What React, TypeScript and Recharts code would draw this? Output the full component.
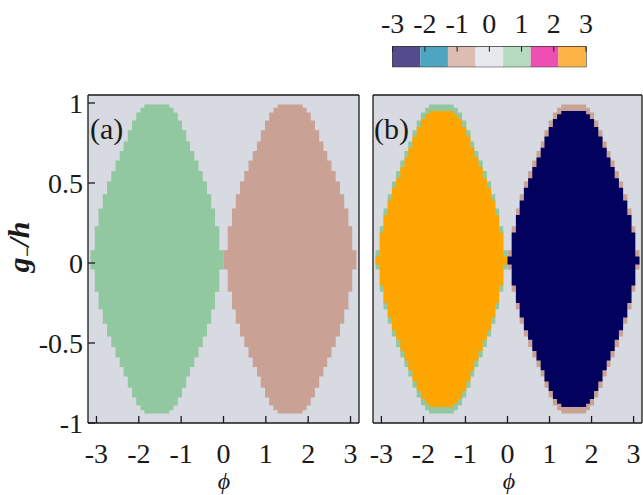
import React from 'react';
import {
  ComposedChart,
  Area,
  XAxis,
  YAxis,
  CartesianGrid,
  BarChart,
  Bar,
  ReferenceArea,
} from 'recharts';

// cell edges along phi, -pi .. pi
const phiGrid = [
  -3.14, -3.04, -2.95, -2.85, -2.75, -2.65, -2.55, -2.45, -2.36, -2.26, -2.16,
  -2.06, -1.96, -1.87, -1.77, -1.67, -1.57, -1.47, -1.37, -1.28, -1.18, -1.08,
  -0.98, -0.88, -0.79, -0.69, -0.59, -0.49, -0.39, -0.29, -0.2, -0.1, 0, 0.1,
  0.2, 0.29, 0.39, 0.49, 0.59, 0.69, 0.79, 0.88, 0.98, 1.08, 1.18, 1.28, 1.37,
  1.47, 1.57, 1.67, 1.77, 1.87, 1.96, 2.06, 2.16, 2.26, 2.36, 2.45, 2.55, 2.65,
  2.75, 2.85, 2.95, 3.04, 3.14,
];

// outline of one lobe, cell by cell (g-/h)
const lobeTop = [
  0.08, 0.23, 0.34, 0.43, 0.51, 0.575, 0.64, 0.7, 0.76, 0.83, 0.89, 0.94, 0.97,
  0.99, 0.99, 0.99, 0.99, 0.99, 0.99, 0.97, 0.94, 0.89, 0.83, 0.76, 0.7, 0.64,
  0.575, 0.51, 0.43, 0.34, 0.23, 0.08,
];
const lobeBottom = [
  -0.04, -0.18, -0.29, -0.38, -0.46, -0.525, -0.59, -0.65, -0.71, -0.78, -0.84,
  -0.89, -0.92, -0.94, -0.94, -0.94, -0.94, -0.94, -0.94, -0.92, -0.89, -0.84,
  -0.78, -0.71, -0.65, -0.59, -0.525, -0.46, -0.38, -0.29, -0.18, -0.04,
];

// panel (b): the core inside the one-cell rim
const coreTop = [
  0.04, 0.19, 0.3, 0.39, 0.47, 0.53, 0.6, 0.66, 0.72, 0.79, 0.85, 0.9, 0.93,
  0.95, 0.95, 0.95, 0.95, 0.95, 0.95, 0.93, 0.9, 0.85, 0.79, 0.72, 0.66, 0.6,
  0.53, 0.47, 0.39, 0.3, 0.19, 0.04,
];
const coreBottom = [
  -0.01, -0.14, -0.25, -0.34, -0.42, -0.48, -0.55, -0.61, -0.67, -0.74, -0.8,
  -0.85, -0.88, -0.9, -0.9, -0.9, -0.9, -0.9, -0.9, -0.88, -0.85, -0.8, -0.74,
  -0.67, -0.61, -0.55, -0.48, -0.42, -0.34, -0.25, -0.14, -0.01,
];

const xTicks = [-3, -2, -1, 0, 1, 2, 3];
const yTicks = [-1, -0.5, 0, 0.5, 1];

// colour bar
const levels = [-3, -2, -1, 0, 1, 2, 3];
const levelColors = ['#554c8e', '#4ea5bf', '#dcbcb3', '#e6e8ee', '#b5dcbf', '#ed4fb3', '#fbb444'];

const FONT = '"Liberation Serif", "DejaVu Serif", serif';
const INK = '#1a1a1a';
const BG = '#d7dae1';
const GREEN = '#91c8a0';
const BROWN = '#c9a195';
const ORANGE = '#ffa500';
const NAVY = '#02025e';

const half = lobeTop.length;

const rows = phiGrid.map((phi, i) => {
  const l = i <= half ? Math.min(i, half - 1) : -1;
  const r = i >= half ? Math.min(i - half, half - 1) : -1;
  return {
    phi,
    rimL: l >= 0 ? [lobeBottom[l], lobeTop[l]] : null,
    rimR: r >= 0 ? [lobeBottom[r], lobeTop[r]] : null,
    coreL: l >= 0 ? [coreBottom[l], coreTop[l]] : null,
    coreR: r >= 0 ? [coreBottom[r], coreTop[r]] : null,
  };
});

const cbRows = [
  Object.fromEntries([['name', 'bar'], ...levels.map((_, i) => [`s${i}`, 1])]),
];

const tickStyle = { fill: INK, fontSize: 28, fontFamily: FONT };
const lineStyle = { stroke: INK, strokeWidth: 1.3 };

interface PanelProps {
  width: number;
  marginLeft: number;
  marginRight: number;
  yLabels: boolean;
  series: { key: string; color: string }[];
}

function Panel({ width, marginLeft, marginRight, yLabels, series }: PanelProps) {
  return (
    <ComposedChart
      width={width}
      height={495}
      data={rows}
      margin={{ top: 94, right: marginRight, bottom: 12, left: marginLeft }}
    >
      <CartesianGrid horizontal={false} vertical={false} fill={BG} fillOpacity={1} />
      <XAxis
        dataKey="phi"
        type="number"
        domain={[-3.2, 3.2]}
        allowDataOverflow
        ticks={xTicks}
        interval={0}
        height={60}
        tickSize={-7}
        tickMargin={27}
        tick={tickStyle}
        tickLine={lineStyle}
        axisLine={lineStyle}
      />
      <XAxis
        xAxisId="top"
        orientation="top"
        type="number"
        domain={[-3.2, 3.2]}
        allowDataOverflow
        ticks={xTicks}
        interval={0}
        height={1}
        tickSize={-7}
        tick={false}
        tickLine={lineStyle}
        axisLine={lineStyle}
      />
      <YAxis
        type="number"
        domain={[-1, 1.05]}
        allowDataOverflow
        ticks={yTicks}
        interval={0}
        width={yLabels ? 80 : 1}
        tickSize={-7}
        tickMargin={12}
        tick={yLabels ? tickStyle : false}
        tickLine={lineStyle}
        axisLine={lineStyle}
      />
      <YAxis
        yAxisId="right"
        orientation="right"
        type="number"
        domain={[-1, 1.05]}
        allowDataOverflow
        ticks={yTicks}
        interval={0}
        width={1}
        tickSize={-7}
        tick={false}
        tickLine={lineStyle}
        axisLine={lineStyle}
      />
      {series.map((s) => (
        <Area
          key={s.key}
          type="stepAfter"
          dataKey={s.key}
          fill={s.color}
          fillOpacity={1}
          stroke="none"
          dot={false}
          activeDot={false}
          isAnimationActive={false}
        />
      ))}
    </ComposedChart>
  );
}

function ColorBar() {
  return (
    <BarChart
      width={225}
      height={75}
      data={cbRows}
      layout="vertical"
      barCategoryGap={0}
      margin={{ top: 6.7, right: 19, bottom: 7.3, left: 12.7 }}
    >
      <XAxis xAxisId="seg" type="number" domain={[0, levels.length]} allowDataOverflow hide />
      <XAxis
        xAxisId="lab"
        orientation="top"
        type="number"
        domain={[-3, 3]}
        allowDataOverflow
        ticks={levels}
        interval={0}
        height={40}
        tickSize={-5}
        tickMargin={18.7}
        axisLine={false}
        tickLine={{ stroke: INK }}
        tick={tickStyle}
      />
      <XAxis
        xAxisId="labB"
        orientation="bottom"
        type="number"
        domain={[-3, 3]}
        allowDataOverflow
        ticks={levels}
        interval={0}
        height={1}
        tickSize={-5}
        axisLine={false}
        tick={false}
        tickLine={{ stroke: INK }}
      />
      <YAxis type="category" dataKey="name" hide />
      {levels.map((lv, i) => (
        <Bar
          key={lv}
          xAxisId="seg"
          dataKey={`s${i}`}
          stackId="cb"
          fill={levelColors[i]}
          isAnimationActive={false}
        />
      ))}
      <ReferenceArea xAxisId="seg" x1={0} x2={levels.length} fill="none" stroke="#333" strokeWidth={1.2} />
    </BarChart>
  );
}

const textBase: React.CSSProperties = {
  position: 'absolute',
  fontFamily: FONT,
  color: INK,
  lineHeight: 1,
  whiteSpace: 'nowrap',
};

export default function App() {
  return (
    <div
      style={{
        position: 'absolute',
        left: 0,
        top: 0,
        width: 643,
        height: 495,
        overflow: 'hidden',
        background: '#fff',
        fontFamily: FONT,
      }}
    >
      <div style={{ position: 'absolute', left: 0, top: 0 }}>
        <Panel
          width={365}
          marginLeft={8}
          marginRight={5}
          yLabels
          series={[
            { key: 'rimL', color: GREEN },
            { key: 'rimR', color: BROWN },
          ]}
        />
      </div>
      <div style={{ position: 'absolute', left: 365, top: 0 }}>
        <Panel
          width={278}
          marginLeft={7}
          marginRight={0}
          yLabels={false}
          series={[
            { key: 'rimL', color: GREEN },
            { key: 'coreL', color: ORANGE },
            { key: 'rimR', color: BROWN },
            { key: 'coreR', color: NAVY },
          ]}
        />
      </div>
      <div style={{ position: 'absolute', left: 380, top: 0 }}>
        <ColorBar />
      </div>

      <div style={{ ...textBase, left: 90, top: 114, fontSize: 30 }}>(a)</div>
      <div style={{ ...textBase, left: 374, top: 114, fontSize: 30 }}>(b)</div>

      <div
        style={{
          ...textBase,
          left: 20,
          top: 247,
          fontSize: 30,
          fontStyle: 'italic',
          fontWeight: 'bold',
          transform: 'translate(-50%, -50%) rotate(-90deg)',
        }}
      >
        g<sub style={{ fontSize: '0.6em', verticalAlign: '-0.25em' }}>−</sub>/h
      </div>
      <div
        style={{
          ...textBase,
          left: 224,
          top: 481,
          fontSize: 24,
          fontStyle: 'italic',
          transform: 'translate(-50%, -50%)',
        }}
      >
        ϕ
      </div>
      <div
        style={{
          ...textBase,
          left: 509,
          top: 481,
          fontSize: 24,
          fontStyle: 'italic',
          transform: 'translate(-50%, -50%)',
        }}
      >
        ϕ
      </div>
    </div>
  );
}
